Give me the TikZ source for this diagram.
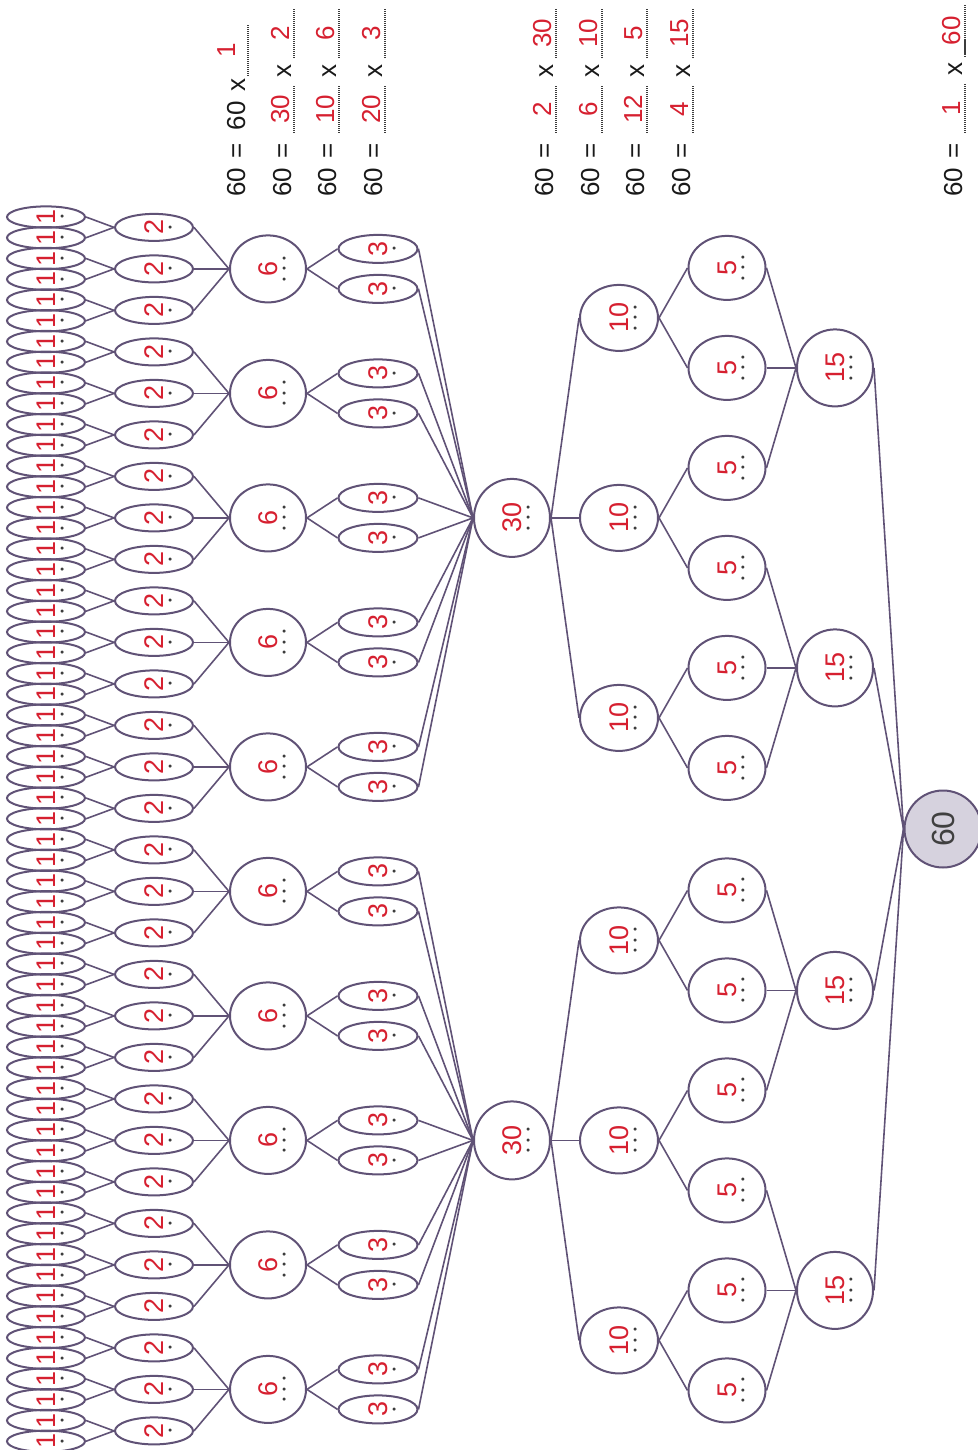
\documentclass[tikz,border=0pt]{standalone}
\usepackage{fontspec}
\setmainfont{Liberation Sans}
\usepackage{graphicx}
\usetikzlibrary{shapes.geometric}

\definecolor{linecol}{RGB}{96,82,118}
\definecolor{numred}{RGB}{214,32,48}
\definecolor{dotgray}{RGB}{60,60,60}
\definecolor{rootfill}{RGB}{214,210,222}
\definecolor{eqcol}{RGB}{25,25,25}

\newcommand\dotA{{\fontsize{11}{11}\selectfont\textbullet}}
\newcommand\dotC{\hbox to 10.5pt{\hss\dotA\hss}\hbox to 10.5pt{\hss\dotA\hss}\hbox to 10.5pt{\hss\dotA\hss}}
\newcommand\numlab[2]{\rotatebox{90}{\setbox0\hbox{\textcolor{numred}{#1}}%
  \rlap{\hbox to\wd0{\hss\raisebox{-10.5pt}[0pt][0pt]{\textcolor{dotgray}{#2}}\hss}}\box0}}
\newcommand\fillblank[3][2pt]{\makebox[#2][l]{\rlap{\raisebox{-3.5pt}{\hbox to #2{\color{dotgray}%
  \xleaders\hbox to 2pt{\hss\rule{1.3pt}{1.6pt}\hss}\hfil}}}%
  \hbox to #2{\hss\raisebox{#1}{\textcolor{numred}{#3}}\hss}}}
\newcommand\eqrow[2]{60\hspace{9.5pt}=\hspace{10pt}\fillblank{48pt}{#1}\hspace{8pt}x\hspace{6pt}\fillblank{50pt}{#2}}

\begin{document}
\begin{tikzpicture}[
    x = 1pt,
    y = -1pt,
    edge/.style = {draw=linecol, line width=1.6pt},
    ring/.style = {ellipse, draw=linecol, line width=2pt, inner sep=0pt,
              font=\fontsize{27}{30}\selectfont},
    one/.style = {ring, minimum width=78pt, minimum height=19pt},
    two/.style = {ring, minimum width=78pt, minimum height=27pt},
    six/.style = {ring, minimum width=76pt, minimum height=67pt},
    three/.style = {ring, minimum width=79pt, minimum height=28pt},
    thirty/.style = {ring, minimum width=76pt, minimum height=78pt},
    ten/.style = {ring, minimum width=78pt, minimum height=66pt},
    five/.style = {ring, minimum width=77pt, minimum height=64pt},
    fifteen/.style = {ring, minimum width=76pt, minimum height=77pt},
    eqn/.style = {rotate=90, anchor=base west, inner sep=0pt, text=eqcol,
              font=\fontsize{26}{30}\selectfont},
    ]
\useasboundingbox (0,0) rectangle (977,1450);

\node[ring, minimum size=77pt, fill=rootfill, text=black!75,
      font=\fontsize{32}{36}\selectfont] (root) at (943,829) {\rotatebox{90}{60}};

\foreach \k in {0,...,59}
    \node[one] (one_\k) at (46,{217+20.75*\k}) {\numlab{1}{\dotA}};

\foreach \j in {0,...,29} {
    \node[two] (two_\j) at (154,{227.4+41.5*\j}) {\numlab{2}{\dotA}};
    \pgfmathtruncatemacro\ka{2*\j}
    \pgfmathtruncatemacro\kb{2*\j+1}
    \draw[edge] (one_\ka.east) -- (two_\j.west);
    \draw[edge] (one_\kb.east) -- (two_\j.west);
}

\foreach \s in {0,...,9} {
    \node[six] (six_\s) at (268,{268.9+124.5*\s}) {\numlab{6}{\dotC}};
    \foreach \d in {0,1,2} {
        \pgfmathtruncatemacro\jj{3*\s+\d}
        \draw[edge] (two_\jj.east) -- (six_\s.west);
    }
}

\foreach \m in {0,...,19} {
    \pgfmathtruncatemacro\ss{int(\m/2)}
    \node[three] (three_\m) at (378,{248.9+124.5*\ss+40*mod(\m,2)}) {\numlab{3}{\dotA}};
    \draw[edge] (six_\ss.east) -- (three_\m.west);
}

\foreach \h in {0,1} {
    \node[thirty] (thirty_\h) at (512,{517.9+622.5*\h}) {\numlab{30}{\dotC}};
    \foreach \d in {0,...,9} {
        \pgfmathtruncatemacro\mm{10*\h+\d}
        \draw[edge] (three_\mm.east) -- (thirty_\h.west);
    }
}

\foreach \n in {0,...,5} {
    \pgfmathtruncatemacro\hh{int(\n/3)}
    \node[ten] (ten_\n) at (619,{317.9+200*mod(\n,3)+622.5*\hh}) {\numlab{10}{\dotC}};
    \draw[edge] (thirty_\hh.east) -- (ten_\n.west);
}

\foreach \p in {0,...,11} {
    \pgfmathtruncatemacro\nn{int(\p/2)}
    \node[five] (five_\p) at (727,{267.9+100*mod(\p,6)+622.5*int(\p/6)}) {\numlab{5}{\dotC}};
    \draw[edge] (ten_\nn.east) -- (five_\p.west);
}

\foreach \q in {0,...,3} {
    \node[fifteen] (fifteen_\q) at (835,{367.9+300*mod(\q,2)+622.5*int(\q/2)}) {\numlab{15}{\dotC}};
    \foreach \d in {0,1,2} {
        \pgfmathtruncatemacro\pp{3*\q+\d}
        \draw[edge] (five_\pp.east) -- (fifteen_\q.west);
    }
    \draw[edge] (fifteen_\q.east) -- (root.west);
}

% equations
\node[eqn] (eq_a1) at (245,197) {60\hspace{9.5pt}=\hspace{13pt}60\hspace{10pt}x\hspace{2pt}\fillblank[10pt]{52pt}{1}};
\node[eqn] (eq_a2) at (291,197) {\eqrow{30}{2}};
\node[eqn] (eq_a3) at (336,197) {\eqrow{10}{6}};
\node[eqn] (eq_a4) at (382,197) {\eqrow{20}{3}};

\node[eqn] (eq_b1) at (553,197) {\eqrow{2}{30}};
\node[eqn] (eq_b2) at (599,197) {\eqrow{6}{10}};
\node[eqn] (eq_b3) at (644,197) {\eqrow{12}{5}};
\node[eqn] (eq_b4) at (690,197) {\eqrow{4}{15}};

\node[eqn] (eq_c1) at (962,197) {60\hspace{9.5pt}=\hspace{10pt}\fillblank{50pt}{1}\hspace{8pt}x\hspace{5pt}\fillblank{53pt}{60}};

\end{tikzpicture}
\end{document}
